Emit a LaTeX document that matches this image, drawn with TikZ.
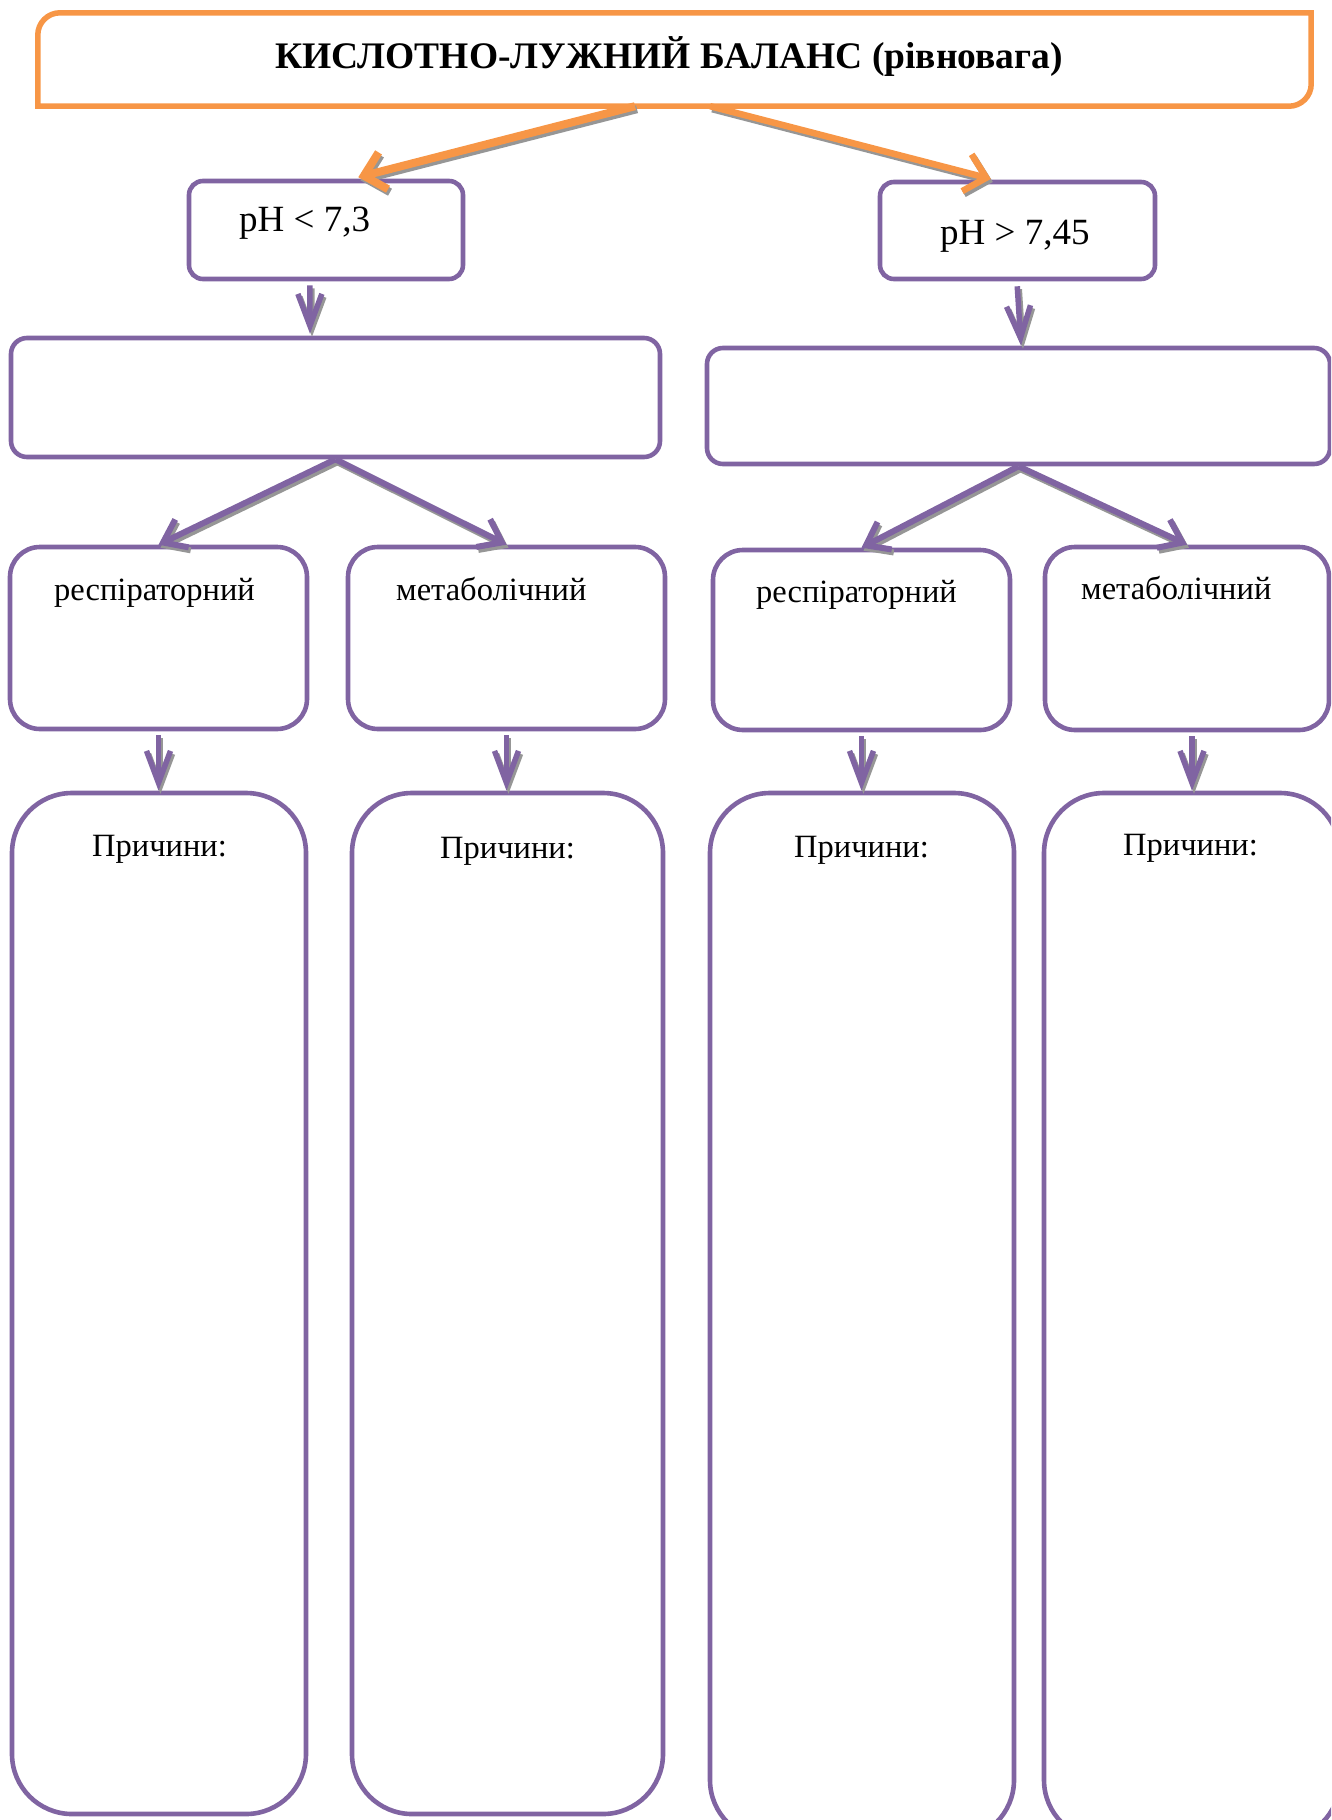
\documentclass[tikz,border=0pt]{standalone}
\usepackage{fontspec}
\setmainfont{Liberation Serif}
\usetikzlibrary{arrows.meta,calc}
\definecolor{pur}{RGB}{128,100,162}
\definecolor{org}{RGB}{247,150,70}
\definecolor{shade}{RGB}{150,150,150}
% an arrow with a grey drop shadow: #1 style, #2 start, #3 end
\newcommand\arrowpair[3]{%
  \draw[#1, draw=shade, transform canvas={shift={(2pt,-3pt)}}] #2 -- #3;
  \draw[#1] #2 -- #3;}
\begin{document}
\begin{tikzpicture}[x=1pt,y=-1pt,
  box/.style={draw=pur, line width=4.6pt, inner sep=0pt},
  lbl/.style={inner sep=0pt, anchor=base west, font=\fontsize{32.5}{36}\selectfont},
  phlbl/.style={inner sep=0pt, anchor=base west, font=\fontsize{37}{40}\selectfont},
  orangearrow/.style={draw=org, line width=#1, -{Straight Barb[length=20pt,width=38pt]}},
  diagarrow/.style={draw=pur, line width=6pt, -{Straight Barb[length=21pt,width=31pt]}},
  downarrow/.style={draw=pur, line width=5.5pt, -{Straight Barb[length=32pt,width=24pt]}},
]
\path[use as bounding box, clip] (0,0) rectangle (1331,1820);

% title box: rounded top-left and bottom-right corners
\node[minimum width=1273, minimum height=93, inner sep=0pt] (title) at (674.5,59.5) {};
\draw[draw=org, line width=5.5pt]
  (title.south west) -- ([yshift=-22pt]title.north west)
  .. controls ([yshift=-10pt]title.north west) and ([xshift=10pt]title.north west) .. ([xshift=22pt]title.north west)
  -- (title.north east) -- ([yshift=22pt]title.south east)
  .. controls ([yshift=10pt]title.south east) and ([xshift=-10pt]title.south east) .. ([xshift=-22pt]title.south east)
  -- cycle;
\node[inner sep=0pt, anchor=base, font=\bfseries\fontsize{37.5}{40}\selectfont] (ttl) at (669,68) {КИСЛОТНО-ЛУЖНИЙ БАЛАНС (рівновага)};

% pH boxes
\node[box, rounded corners=14pt, minimum width=274, minimum height=98] (pHL) at (326,230) {};
\node[box, rounded corners=14pt, minimum width=275, minimum height=97] (pHR) at (1017.5,230.5) {};
\node[phlbl] (tpHL) at (239,231) {pH < 7,3};
\node[phlbl] (tpHR) at (940,244) {pH > 7,45};

% second level
\node[box, rounded corners=16pt, minimum width=649, minimum height=119] (midL) at (335.5,397.5) {};
\node[box, rounded corners=16pt, minimum width=623, minimum height=116] (midR) at (1018.5,406) {};

% third level
\node[box, rounded corners=30pt, minimum width=297, minimum height=182] (resL) at (158.5,638) {};
\node[box, rounded corners=30pt, minimum width=317, minimum height=182] (metL) at (506.5,638) {};
\node[box, rounded corners=30pt, minimum width=297, minimum height=180] (resR) at (861.5,640) {};
\node[box, rounded corners=30pt, minimum width=284, minimum height=183] (metR) at (1187,638.5) {};
\node[lbl] (tresL) at (54,600) {респіраторний};
\node[lbl] (tmetL) at (396,600) {метаболічний};
\node[lbl] (tresR) at (756,602) {респіраторний};
\node[lbl] (tmetR) at (1081,599) {метаболічний};

% cause boxes
\node[box, rounded corners=60pt, minimum width=294, minimum height=1021] (cA) at (159,1303.5) {};
\node[box, rounded corners=60pt, minimum width=311, minimum height=1021] (cB) at (507.5,1303.5) {};
\node[box, rounded corners=60pt, minimum width=304, minimum height=1047] (cC) at (862,1316.5) {};
\node[box, rounded corners=60pt, minimum width=296, minimum height=1047] (cD) at (1192,1316.5) {};
\node[lbl] (tcA) at (92,856) {Причини:};
\node[lbl] (tcB) at (440,858) {Причини:};
\node[lbl] (tcC) at (794,857) {Причини:};
\node[lbl] (tcD) at (1123,855) {Причини:};

% connectors
\arrowpair{orangearrow=8pt, shorten >=6pt}{($(title.south west)!0.469!(title.south east)$)}{($(pHL.north west)!0.595!(pHL.north east)$)}
\arrowpair{orangearrow=6.5pt, shorten >=3pt}{($(title.south west)!0.528!(title.south east)$)}{($(pHR.north west)!0.415!(pHR.north east)$)}

\arrowpair{downarrow, shorten <=4pt, shorten >=2pt}{($(pHL.south west)!0.442!(pHL.south east)$)}{($(midL.north west)!0.461!(midL.north east)$)}
\arrowpair{downarrow, shorten <=5pt}{($(pHR.south west)!0.498!(pHR.south east)$)}{($(midR.north west)!0.504!(midR.north east)$)}

\arrowpair{diagarrow}{(midL.south)}{(resL.north)}
\arrowpair{diagarrow}{(midL.south)}{(metL.north)}
\arrowpair{diagarrow}{(midR.south)}{(resR.north)}
\arrowpair{diagarrow}{(midR.south)}{(metR.north)}

\arrowpair{downarrow, shorten <=4pt}{(resL.south)}{(resL.south |- cA.north)}
\arrowpair{downarrow, shorten <=4pt}{(metL.south)}{(metL.south |- cB.north)}
\arrowpair{downarrow, shorten <=4pt}{(resR.south)}{(resR.south |- cC.north)}
\arrowpair{downarrow, shorten <=4pt}{(metR.south -| cD.north)}{(cD.north)}
\end{tikzpicture}
\end{document}
